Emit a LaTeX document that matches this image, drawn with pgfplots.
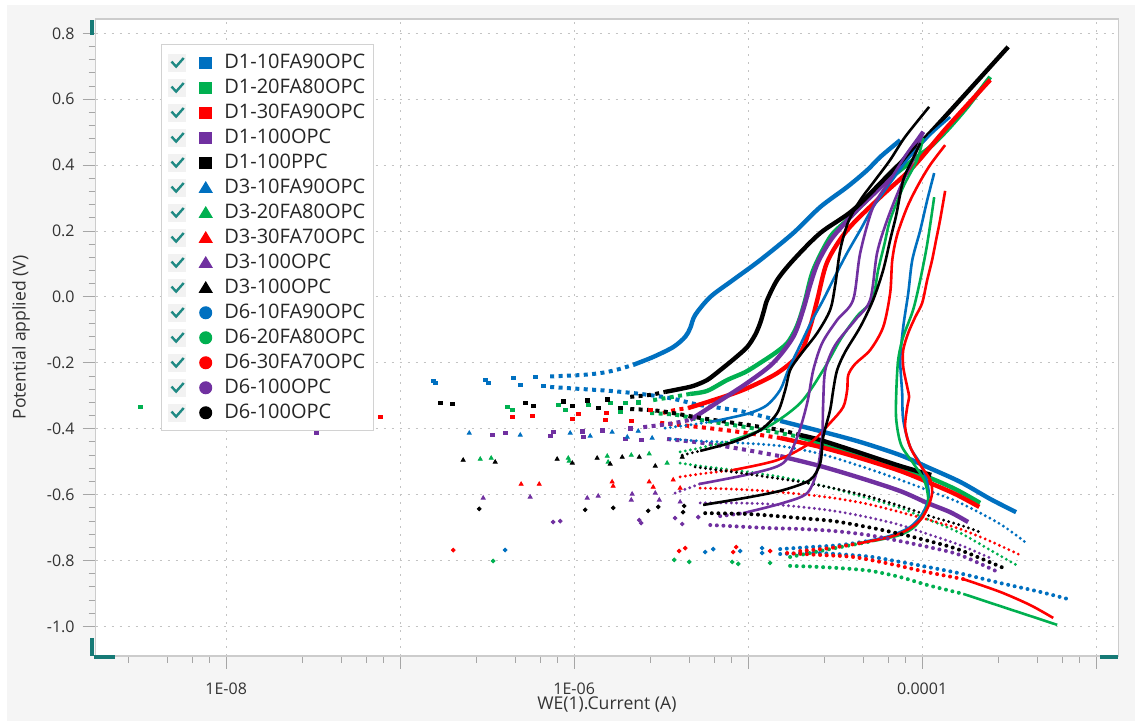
\documentclass[border=0pt]{standalone}
\usepackage{pgfplots}
\pgfplotsset{compat=1.18}
\usepackage{fontspec}
\setmainfont{Open Sans}

\definecolor{cblue}{RGB}{0,112,192}
\definecolor{cgreen}{RGB}{0,176,80}
\definecolor{cred}{RGB}{255,0,0}
\definecolor{cpurple}{RGB}{112,48,160}
\definecolor{cblack}{RGB}{0,0,0}
\definecolor{chk}{RGB}{32,138,132}
\definecolor{handle}{RGB}{22,122,118}
\definecolor{figbg}{RGB}{245,245,245}
\definecolor{gridc}{RGB}{195,195,195}

% check box drawn in front of every legend marker
\newcommand{\legcheck}{%
  \fill[black!5] (0pt,-4.25pt) rectangle (8.5pt,4.25pt);
  \draw[chk, line width=1.2pt, solid] (1.4pt,0.6pt) -- (3.7pt,-1.9pt) -- (7.5pt,2.4pt);}

\pgfplotsset{
  msq/.style={only marks, mark=square*, mark size=0.9pt, color=#1,
    legend image code/.code={\legcheck \fill[#1] (15.6pt,-2.8pt) rectangle (21.4pt,2.8pt);}},
  mtri/.style={only marks, mark=triangle*, mark size=1.15pt, color=#1,
    legend image code/.code={\legcheck \fill[#1] (15.35pt,-2.3pt) -- (21.65pt,-2.3pt) -- (18.5pt,2.9pt) -- cycle;}},
  mcirc/.style={only marks, mark=*, mark size=0.95pt, color=#1,
    legend image code/.code={\legcheck \fill[#1] (18.5pt,0pt) circle (3pt);}},
  dsq/.style={no markers, color=#1, line width=2pt, dash pattern=on 2pt off 2.2pt, smooth, forget plot},
  dtri/.style={no markers, color=#1, line width=1.6pt, line cap=round, dash pattern=on 0pt off 2.6pt, smooth, forget plot},
  dcirc/.style={no markers, color=#1, line width=2pt, line cap=round, dash pattern=on 0pt off 3.3pt, smooth, forget plot},
  lnthick/.style={no markers, color=#1, line width=2.2pt, smooth, forget plot},
  lnthin/.style={no markers, color=#1, line width=1.3pt, smooth, forget plot},
}

\begin{document}
\begin{tikzpicture}
\useasboundingbox (-47.85pt,-32.5pt) rectangle (519.65pt,328pt);
\fill[white] (-47.85pt,-32.5pt) rectangle (519.65pt,328pt);
\fill[figbg] (-44.35pt,-32.5pt) rectangle (519.65pt,325.5pt);
\begin{axis}[
  width=511.2pt, height=318.5pt, scale only axis,
  xmin=-8.75, xmax=-2.874, ymin=-1.0895, ymax=0.8437,
  xtick={-8,-7,-6,-5,-4,-3},
  xticklabels={1E-08,,1E-06,,0.0001,},
  minor xtick={-8.56,-8.34,-8.195,-8.095,-7.56,-7.34,-7.195,-7.095,-6.56,-6.34,-6.195,-6.095,
               -5.56,-5.34,-5.195,-5.095,-4.56,-4.34,-4.195,-4.095,-3.56,-3.34,-3.195,-3.095},
  ytick={-1,-0.8,-0.6,-0.4,-0.2,0,0.2,0.4,0.6,0.8},
  yticklabels={-1.0,-0.8,-0.6,-0.4,-0.2,0.0,0.2,0.4,0.6,0.8},
  minor y tick num=4,
  tick align=outside, xtick pos=bottom, ytick pos=left,
  major tick length=6.5pt, minor tick length=3.5pt,
  tick style={color=gray!70, line width=0.5pt},
  grid=major,
  major grid style={gridc, line width=0.5pt, dash pattern=on 1pt off 3pt},
  axis line style={gray!40, line width=0.6pt},
  axis background/.style={fill=white},
  ticklabel style={font=\fontsize{8}{9.6}\selectfont, text=black!80},
  xticklabel style={anchor=north, inner sep=0pt, text height=5.8pt, text depth=0pt, yshift=-6.6pt},
  yticklabel style={anchor=east, inner sep=0pt, xshift=-3.85pt},
  xlabel={WE(1).Current (A)},
  ylabel={Potential applied (V)},
  label style={font=\fontsize{8.8}{10}\selectfont, text=black!80},
  xlabel style={at={(axis description cs:0.5,-0.0769)}, anchor=center},
  ylabel style={at={(axis description cs:-0.0731,0.5)}, anchor=center},
  legend cell align=left,
  legend style={at={(axis description cs:0.0636,0.9603)}, anchor=north west,
    draw=gray!35, line width=0.5pt, fill=white,
    font=\fontsize{10}{12}\selectfont, text=black!85,
    inner xsep=3.5pt, inner ysep=4pt, row sep=2.5pt, column sep=5.5pt,
    nodes={inner sep=0.4pt, text height=7.3pt, text depth=1.9pt}},
]

% ---------------- D1-10FA90OPC
\addplot[msq=cblue] coordinates {(-6.810,-0.255) (-6.799,-0.261) (-6.511,-0.252) (-6.494,-0.261) (-6.351,-0.246) (-6.310,-0.267) (-6.224,-0.243) (-6.178,-0.270)};
\addlegendentry{D1-10FA90OPC}
\addplot[dsq=cblue] coordinates {(-6.138,-0.273) (-5.966,-0.279) (-5.793,-0.285) (-5.621,-0.294) (-5.448,-0.307) (-5.276,-0.328) (-5.046,-0.346) (-4.816,-0.376)};
\addplot[lnthick=cblue] coordinates {(-4.816,-0.376) (-4.586,-0.407) (-4.356,-0.440) (-4.126,-0.480) (-3.971,-0.516) (-3.782,-0.561) (-3.609,-0.613) (-3.460,-0.653)};
\addplot[dsq=cblue] coordinates {(-6.138,-0.241) (-5.966,-0.237) (-5.851,-0.231) (-5.764,-0.222) (-5.661,-0.206)};
\addplot[lnthick=cblue] coordinates {(-5.661,-0.206) (-5.546,-0.182) (-5.431,-0.152) (-5.362,-0.121) (-5.333,-0.094) (-5.305,-0.055) (-5.218,0) (-5.086,0.052) (-4.931,0.112) (-4.741,0.194) (-4.586,0.273) (-4.431,0.334) (-4.316,0.385) (-4.241,0.425) (-4.126,0.476)};

% ---------------- D1-20FA80OPC
\addplot[msq=cgreen] coordinates {(-8.494,-0.334) (-6.385,-0.334) (-6.356,-0.343) (-6.092,-0.328) (-6.052,-0.343) (-5.920,-0.328) (-5.793,-0.322) (-5.736,-0.349) (-5.707,-0.322) (-5.632,-0.319)};
\addlegendentry{D1-20FA80OPC}
\addplot[dsq=cgreen] coordinates {(-5.563,-0.352) (-5.408,-0.358) (-5.276,-0.373) (-5.046,-0.392) (-4.816,-0.413) (-4.701,-0.425)};
\addplot[lnthick=cgreen] coordinates {(-4.701,-0.425) (-4.586,-0.443) (-4.356,-0.480) (-4.126,-0.519) (-3.971,-0.546) (-3.810,-0.583) (-3.667,-0.625)};
\addplot[dsq=cgreen] coordinates {(-5.546,-0.313) (-5.431,-0.303) (-5.333,-0.294)};
\addplot[lnthick=cgreen] coordinates {(-5.333,-0.294) (-5.236,-0.285) (-5.121,-0.252) (-5.017,-0.228) (-4.931,-0.200) (-4.845,-0.170) (-4.776,-0.140) (-4.730,-0.100) (-4.701,-0.061) (-4.672,-0.009) (-4.626,0.082) (-4.529,0.182) (-4.431,0.234) (-4.241,0.334) (-4.052,0.416) (-3.954,0.455) (-3.856,0.507) (-3.741,0.577) (-3.609,0.668)};

% ---------------- D1-30FA90OPC
\addplot[msq=cred] coordinates {(-7.115,-0.364) (-6.356,-0.364) (-6.241,-0.361) (-6.011,-0.370) (-5.977,-0.355) (-5.822,-0.373) (-5.816,-0.352) (-5.672,-0.376) (-5.563,-0.343)};
\addlegendentry{D1-30FA90OPC}
\addplot[dsq=cred] coordinates {(-5.506,-0.382) (-5.276,-0.395) (-5.046,-0.410) (-4.816,-0.428)};
\addplot[lnthick=cred] coordinates {(-4.816,-0.428) (-4.586,-0.455) (-4.356,-0.489) (-4.126,-0.528) (-3.971,-0.561) (-3.810,-0.598) (-3.672,-0.637)};
\addplot[dsq=cred] coordinates {(-5.489,-0.352) (-5.420,-0.343) (-5.345,-0.337)};
\addplot[lnthick=cred] coordinates {(-5.345,-0.337) (-5.218,-0.316) (-5.029,-0.282) (-4.833,-0.231) (-4.701,-0.170) (-4.644,-0.091) (-4.603,-0.009) (-4.546,0.106) (-4.431,0.203) (-4.241,0.303) (-4.052,0.395) (-3.856,0.516) (-3.609,0.659)};

% ---------------- D1-100OPC
\addplot[msq=cpurple] coordinates {(-7.483,-0.413) (-6.471,-0.419) (-6.397,-0.413) (-6.138,-0.422) (-6.121,-0.410) (-5.954,-0.407) (-5.948,-0.425) (-5.839,-0.404) (-5.707,-0.431) (-5.678,-0.398) (-5.615,-0.434)};
\addlegendentry{D1-100OPC}
\addplot[dsq=cpurple] coordinates {(-5.466,-0.431) (-5.259,-0.443) (-5.046,-0.461) (-4.816,-0.483)};
\addplot[lnthick=cpurple] coordinates {(-4.816,-0.483) (-4.586,-0.513) (-4.356,-0.549) (-4.126,-0.589) (-3.971,-0.625) (-3.839,-0.653) (-3.736,-0.683)};
\addplot[dsq=cpurple] coordinates {(-5.603,-0.395) (-5.494,-0.388) (-5.420,-0.382) (-5.333,-0.373)};
\addplot[lnthick=cpurple] coordinates {(-5.333,-0.373) (-5.201,-0.328) (-5.006,-0.261) (-4.856,-0.200) (-4.741,-0.121) (-4.684,-0.039) (-4.644,0.036) (-4.598,0.106) (-4.517,0.179) (-4.374,0.264) (-4.184,0.364) (-3.994,0.501)};

% ---------------- D1-100PPC
\addplot[msq=cblack] coordinates {(-6.770,-0.322) (-6.701,-0.325) (-6.282,-0.322) (-6.236,-0.331) (-6.063,-0.316) (-6.011,-0.331) (-5.925,-0.313) (-5.862,-0.337) (-5.810,-0.310) (-5.736,-0.337)};
\addlegendentry{D1-100PPC}
\addplot[dsq=cblack] coordinates {(-5.678,-0.340) (-5.506,-0.346) (-5.276,-0.367) (-5.046,-0.385) (-4.816,-0.404) (-4.701,-0.419)};
\addplot[lnthick=cblack] coordinates {(-4.701,-0.419) (-4.586,-0.434) (-4.356,-0.473) (-4.126,-0.513) (-3.948,-0.540)};
\addplot[dsq=cblack] coordinates {(-5.678,-0.303) (-5.563,-0.297) (-5.477,-0.288)};
\addplot[lnthick=cblack] coordinates {(-5.477,-0.288) (-5.391,-0.279) (-5.316,-0.270) (-5.236,-0.252) (-5.161,-0.222) (-5.075,-0.185) (-5.006,-0.152) (-4.960,-0.115) (-4.931,-0.079) (-4.908,-0.039) (-4.891,-0.009) (-4.833,0.052) (-4.741,0.112) (-4.586,0.194) (-4.397,0.264) (-4.184,0.376) (-3.994,0.476) (-3.782,0.598) (-3.506,0.759)};

% ---------------- D3-10FA90OPC
\addplot[mtri=cblue] coordinates {(-6.603,-0.413) (-6.310,-0.419) (-6.023,-0.413) (-5.908,-0.422) (-5.782,-0.410) (-5.695,-0.425) (-5.632,-0.407) (-5.552,-0.428)};
\addlegendentry{D3-10FA90OPC}
\addplot[dtri=cblue] coordinates {(-5.448,-0.431) (-5.276,-0.437) (-5.046,-0.443) (-4.816,-0.452) (-4.586,-0.476) (-4.356,-0.513) (-4.126,-0.555) (-3.971,-0.586) (-3.782,-0.625) (-3.552,-0.689) (-3.408,-0.744)};
\addplot[dtri=cblue] coordinates {(-5.477,-0.398) (-5.333,-0.388) (-5.218,-0.379)};
\addplot[lnthin=cblue] coordinates {(-5.218,-0.379) (-5.132,-0.370) (-4.989,-0.352) (-4.891,-0.328) (-4.816,-0.282) (-4.770,-0.222) (-4.701,-0.146) (-4.632,-0.070) (-4.569,-0.009) (-4.500,0.064) (-4.431,0.134) (-4.356,0.203) (-4.282,0.273) (-4.184,0.346) (-4.086,0.416) (-3.954,0.492) (-3.839,0.546)};

% ---------------- D3-20FA80OPC
\addplot[mtri=cgreen] coordinates {(-6.540,-0.492) (-6.477,-0.489) (-6.034,-0.489) (-6.029,-0.498) (-5.810,-0.483) (-5.805,-0.501) (-5.672,-0.480) (-5.569,-0.476) (-5.466,-0.504)};
\addlegendentry{D3-20FA80OPC}
\addplot[dtri=cgreen] coordinates {(-5.391,-0.504) (-5.276,-0.513) (-5.046,-0.528) (-4.816,-0.546) (-4.586,-0.571) (-4.356,-0.604) (-4.126,-0.640) (-3.971,-0.674) (-3.782,-0.716) (-3.609,-0.768) (-3.460,-0.813)};
\addplot[dtri=cgreen] coordinates {(-5.391,-0.470) (-5.276,-0.458) (-5.103,-0.437)};
\addplot[lnthin=cgreen] coordinates {(-5.103,-0.437) (-4.891,-0.395) (-4.701,-0.322) (-4.569,-0.222) (-4.471,-0.130) (-4.374,-0.058) (-4.287,-0.009) (-4.253,0.082) (-4.218,0.158) (-4.184,0.234) (-4.109,0.334) (-4.029,0.416) (-3.994,0.483)};

% ---------------- D3-30FA70OPC
\addplot[mtri=cred] coordinates {(-6.305,-0.568) (-6.201,-0.568) (-5.782,-0.561) (-5.776,-0.574) (-5.569,-0.561) (-5.546,-0.577) (-5.431,-0.555) (-5.391,-0.580)};
\addlegendentry{D3-30FA70OPC}
\addplot[dtri=cred] coordinates {(-5.276,-0.580) (-5.086,-0.583) (-4.891,-0.589) (-4.701,-0.598) (-4.511,-0.610) (-4.316,-0.628) (-4.126,-0.653) (-3.937,-0.680) (-3.782,-0.704) (-3.609,-0.741) (-3.425,-0.786)};
\addplot[dtri=cred] coordinates {(-5.391,-0.546) (-5.276,-0.537) (-5.086,-0.525)};
\addplot[lnthin=cred] coordinates {(-5.086,-0.525) (-4.833,-0.495) (-4.644,-0.443) (-4.529,-0.382) (-4.454,-0.334) (-4.431,-0.282) (-4.425,-0.237) (-4.385,-0.203) (-4.299,-0.161) (-4.224,-0.091) (-4.184,0.012) (-4.172,0.112) (-4.144,0.188) (-4.086,0.273) (-4.023,0.340) (-3.954,0.401) (-3.868,0.461)};

% ---------------- D3-100OPC (purple)
\addplot[mtri=cpurple] coordinates {(-6.523,-0.610) (-6.253,-0.607) (-5.925,-0.610) (-5.862,-0.604) (-5.672,-0.616) (-5.667,-0.598) (-5.534,-0.595) (-5.511,-0.616) (-5.391,-0.622)};
\addlegendentry{D3-100OPC}
\addplot[dtri=cpurple] coordinates {(-5.276,-0.625) (-5.086,-0.625) (-4.891,-0.628) (-4.701,-0.637) (-4.511,-0.649) (-4.316,-0.668) (-4.126,-0.692) (-3.937,-0.725) (-3.782,-0.753) (-3.609,-0.792)};
\addplot[dtri=cpurple] coordinates {(-5.420,-0.595) (-5.276,-0.567)};
\addplot[lnthin=cpurple] coordinates {(-5.276,-0.567) (-4.989,-0.537) (-4.799,-0.504) (-4.718,-0.425) (-4.661,-0.322) (-4.626,-0.222) (-4.575,-0.140) (-4.489,-0.070) (-4.397,-0.009) (-4.356,0.134) (-4.282,0.273) (-4.184,0.355) (-4.086,0.437) (-3.994,0.501)};

% ---------------- D3-100OPC (black)
\addplot[mtri=cblack] coordinates {(-6.638,-0.495) (-6.454,-0.501) (-6.098,-0.492) (-6.011,-0.504) (-5.868,-0.489) (-5.793,-0.507) (-5.724,-0.486) (-5.626,-0.486) (-5.534,-0.513) (-5.379,-0.486)};
\addlegendentry{D3-100OPC}
\addplot[dtri=cblack] coordinates {(-5.305,-0.516) (-5.086,-0.531) (-4.891,-0.546) (-4.701,-0.561) (-4.511,-0.580) (-4.316,-0.604) (-4.126,-0.634) (-3.937,-0.668) (-3.782,-0.692) (-3.655,-0.716)};
\addplot[dtri=cblack] coordinates {(-5.379,-0.480) (-5.276,-0.467)};
\addplot[lnthin=cblack] coordinates {(-5.276,-0.467) (-5.086,-0.440) (-4.931,-0.404) (-4.833,-0.352) (-4.787,-0.282) (-4.759,-0.222) (-4.701,-0.176) (-4.603,-0.109) (-4.529,-0.039) (-4.500,0.036) (-4.471,0.143) (-4.425,0.228) (-4.356,0.294) (-4.270,0.355) (-4.184,0.416) (-4.098,0.486) (-3.960,0.577)};

% ---------------- D6-10FA90OPC
\addplot[mcirc=cblue] coordinates {(-6.397,-0.768) (-5.247,-0.774) (-5.201,-0.765) (-5.046,-0.771) (-4.920,-0.762) (-4.920,-0.777)};
\addlegendentry{D6-10FA90OPC}
\addplot[dcirc=cblue] coordinates {(-4.816,-0.780) (-4.603,-0.777) (-4.414,-0.783) (-4.287,-0.789) (-4.126,-0.804) (-3.971,-0.819) (-3.764,-0.841) (-3.552,-0.868) (-3.322,-0.895) (-3.138,-0.920)};
\addplot[dcirc=cblue] coordinates {(-4.816,-0.765) (-4.644,-0.759) (-4.471,-0.753) (-4.316,-0.741)};
\addplot[lnthin=cblue] coordinates {(-4.316,-0.741) (-4.184,-0.725) (-4.069,-0.698) (-4.000,-0.659) (-3.966,-0.616) (-3.966,-0.577) (-4.000,-0.516) (-4.069,-0.455) (-4.109,-0.373) (-4.115,-0.291) (-4.126,-0.191) (-4.109,-0.091) (-4.080,0.012) (-4.057,0.112) (-4.011,0.203) (-3.971,0.294) (-3.931,0.376)};

% ---------------- D6-20FA80OPC
\addplot[mcirc=cgreen] coordinates {(-6.466,-0.801) (-5.425,-0.798) (-5.339,-0.804) (-5.092,-0.804) (-5.057,-0.810) (-4.874,-0.807)};
\addlegendentry{D6-20FA80OPC}
\addplot[dcirc=cgreen] coordinates {(-4.759,-0.816) (-4.603,-0.819) (-4.414,-0.825) (-4.287,-0.832) (-4.126,-0.850) (-3.971,-0.874) (-3.764,-0.901)};
\addplot[lnthin=cgreen] coordinates {(-3.764,-0.901) (-3.552,-0.938) (-3.379,-0.968) (-3.224,-0.995)};
\addplot[dcirc=cgreen] coordinates {(-4.759,-0.789) (-4.500,-0.762) (-4.287,-0.741)};
\addplot[lnthin=cgreen] coordinates {(-4.287,-0.741) (-4.126,-0.722) (-4.040,-0.695) (-3.977,-0.646) (-3.966,-0.607) (-3.989,-0.555) (-4.052,-0.504) (-4.121,-0.449) (-4.149,-0.373) (-4.149,-0.291) (-4.138,-0.191) (-4.109,-0.121) (-4.052,-0.039) (-4.011,0.052) (-3.977,0.143) (-3.954,0.219) (-3.931,0.303)};

% ---------------- D6-30FA70OPC
\addplot[mcirc=cred] coordinates {(-6.695,-0.768) (-5.397,-0.771) (-5.362,-0.762) (-5.086,-0.774) (-5.069,-0.759) (-4.874,-0.771)};
\addlegendentry{D6-30FA70OPC}
\addplot[dcirc=cred] coordinates {(-4.776,-0.777) (-4.586,-0.783) (-4.397,-0.789) (-4.184,-0.810) (-3.971,-0.835) (-3.764,-0.856)};
\addplot[lnthin=cred] coordinates {(-3.764,-0.856) (-3.552,-0.895) (-3.379,-0.935) (-3.247,-0.974)};
\addplot[dcirc=cred] coordinates {(-4.701,-0.771) (-4.529,-0.762) (-4.356,-0.747)};
\addplot[lnthin=cred] coordinates {(-4.356,-0.747) (-4.184,-0.728) (-4.086,-0.707) (-4.011,-0.677) (-3.966,-0.637) (-3.943,-0.595) (-3.954,-0.555) (-4.011,-0.510) (-4.069,-0.455) (-4.098,-0.395) (-4.086,-0.334) (-4.075,-0.303) (-4.086,-0.273) (-4.109,-0.212) (-4.109,-0.161) (-4.080,-0.109) (-4.040,-0.061) (-4.000,-0.018) (-3.971,0.052) (-3.943,0.112) (-3.920,0.173) (-3.897,0.234) (-3.868,0.322)};

% ---------------- D6-100OPC (purple)
\addplot[mcirc=cpurple] coordinates {(-6.121,-0.683) (-6.080,-0.680) (-5.626,-0.677) (-5.615,-0.686) (-5.420,-0.671) (-5.379,-0.689) (-5.287,-0.668)};
\addlegendentry{D6-100OPC}
\addplot[dcirc=cpurple] coordinates {(-5.218,-0.692) (-4.891,-0.701) (-4.701,-0.704) (-4.511,-0.710) (-4.316,-0.722) (-4.126,-0.741) (-3.937,-0.762) (-3.782,-0.783) (-3.563,-0.835)};
\addplot[dcirc=cpurple] coordinates {(-5.161,-0.665) (-5.029,-0.656)};
\addplot[lnthin=cpurple] coordinates {(-5.029,-0.656) (-4.799,-0.625) (-4.661,-0.595) (-4.603,-0.525) (-4.575,-0.425) (-4.569,-0.322) (-4.557,-0.222) (-4.500,-0.146) (-4.385,-0.070) (-4.299,-0.009) (-4.259,0.134) (-4.201,0.234) (-4.126,0.334) (-4.052,0.416) (-3.994,0.501)};

% ---------------- D6-100OPC (black)
\addplot[mcirc=cblack] coordinates {(-6.546,-0.643) (-5.937,-0.646) (-5.776,-0.640) (-5.575,-0.649) (-5.517,-0.637) (-5.374,-0.653) (-5.368,-0.634)};
\addlegendentry{D6-100OPC}
\addplot[dcirc=cblack] coordinates {(-5.247,-0.656) (-4.989,-0.659) (-4.701,-0.671) (-4.511,-0.680) (-4.316,-0.698) (-4.126,-0.719) (-3.937,-0.744) (-3.782,-0.768) (-3.534,-0.822)};
\addplot[lnthin=cblack] coordinates {(-5.259,-0.631) (-4.989,-0.607) (-4.799,-0.586) (-4.644,-0.555) (-4.586,-0.504) (-4.569,-0.425) (-4.529,-0.343) (-4.511,-0.282) (-4.489,-0.222) (-4.443,-0.167) (-4.356,-0.091) (-4.282,-0.009) (-4.224,0.082) (-4.184,0.173) (-4.149,0.249) (-4.109,0.355) (-4.057,0.416) (-4.011,0.467)};

\end{axis}
% scroll handles of the original software
\fill[handle] (-2.9pt,310.5pt) rectangle (-0.6pt,318pt);
\fill[handle] (-2.9pt,0pt) rectangle (-0.6pt,9pt);
\fill[handle] (-0.6pt,-1.5pt) rectangle (9.5pt,0.4pt);
\fill[handle] (502pt,-1.5pt) rectangle (511pt,0.4pt);
\end{tikzpicture}
\end{document}
